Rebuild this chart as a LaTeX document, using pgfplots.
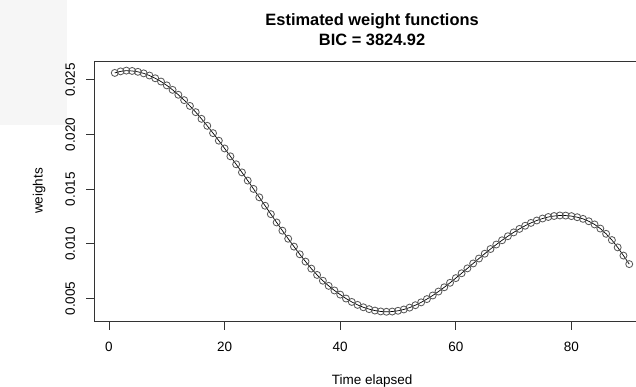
\documentclass[border=0pt]{standalone}
\usepackage{pgfplots}
\pgfplotsset{compat=1.18}
\usepackage{fontspec}
\setmainfont{Liberation Sans}
\begin{document}
\begin{tikzpicture}[x=1pt,y=1pt]
\useasboundingbox (0,0) rectangle (636,-387);
\clip (0,0) rectangle (636,-387);
\fill[gray!7] (0,0) rectangle (67,-125);
\begin{axis}[
  at={(94.2pt,-321.6pt)}, anchor=south west,
  scale only axis, width=555.6pt, height=260.6pt,
  xmin=-2.56, xmax=93.56, ymin=0.00289, ymax=0.02673,
  scaled y ticks=false, scaled x ticks=false,
  axis line style={black!80, line width=0.9pt},
  tick align=outside, major tick length=8.2pt,
  tick style={black!80, line width=0.9pt},
  xtick={0,20,40,60,80}, xticklabels={0,20,40,60,80},
  ytick={0.005,0.010,0.015,0.020,0.025},
  yticklabels={0.005,0.010,0.015,0.020,0.025},
  xtick pos=bottom, ytick pos=left,
  ticklabel style={font=\fontsize{13.5}{16}\selectfont, inner sep=0pt},
  xticklabel style={anchor=base, yshift=-21.9pt},
  yticklabel style={xshift=-11pt, rotate=90, anchor=base},
]
\addplot[black, line width=0.7pt, mark=o, mark size=3.5pt,
  mark options={black!65, line width=0.85pt, solid}] coordinates {
(1,0.02564) (2,0.02578) (3,0.02585) (4,0.02582) (5,0.02574)
(6,0.02560) (7,0.02540) (8,0.02515) (9,0.02485) (10,0.02450)
(11,0.02409) (12,0.02364) (13,0.02315) (14,0.02262) (15,0.02205)
(16,0.02144) (17,0.02080) (18,0.02013) (19,0.01944) (20,0.01873)
(21,0.01801) (22,0.01728) (23,0.01654) (24,0.01579) (25,0.01503)
(26,0.01426) (27,0.01349) (28,0.01272) (29,0.01196) (30,0.01121)
(31,0.01047) (32,0.00975) (33,0.00905) (34,0.00838) (35,0.00774)
(36,0.00716) (37,0.00663) (38,0.00616) (39,0.00574) (40,0.00536)
(41,0.00500) (42,0.00469) (43,0.00442) (44,0.00420) (45,0.00403)
(46,0.00390) (47,0.00382) (48,0.00379) (49,0.00381) (50,0.00388)
(51,0.00400) (52,0.00417) (53,0.00439) (54,0.00465) (55,0.00495)
(56,0.00528) (57,0.00564) (58,0.00603) (59,0.00644) (60,0.00687)
(61,0.00731) (62,0.00776) (63,0.00821) (64,0.00866) (65,0.00910)
(66,0.00953) (67,0.00994) (68,0.01033) (69,0.01070) (70,0.01105)
(71,0.01137) (72,0.01166) (73,0.01192) (74,0.01214) (75,0.01232)
(76,0.01246) (77,0.01255) (78,0.01260) (79,0.01259) (80,0.01254)
(81,0.01244) (82,0.01229) (83,0.01207) (84,0.01178) (85,0.01140)
(86,0.01092) (87,0.01035) (88,0.00968) (89,0.00893) (90,0.00815)
};
\end{axis}
\node[font=\bfseries\fontsize{16.4}{19}\selectfont, anchor=base, inner sep=0pt] at (372.1,-25.3) {Estimated weight functions};
\node[font=\bfseries\fontsize{16.4}{19}\selectfont, anchor=base, inner sep=0pt] at (372.1,-45.1) {BIC = 3824.92};
\node[font=\fontsize{13.5}{16}\selectfont, anchor=base, inner sep=0pt] at (372.1,-384.5) {Time elapsed};
\node[font=\fontsize{13.5}{16}\selectfont, rotate=90, anchor=base, inner sep=0pt] at (42.5,-191) {weights};
\end{tikzpicture}
\end{document}
